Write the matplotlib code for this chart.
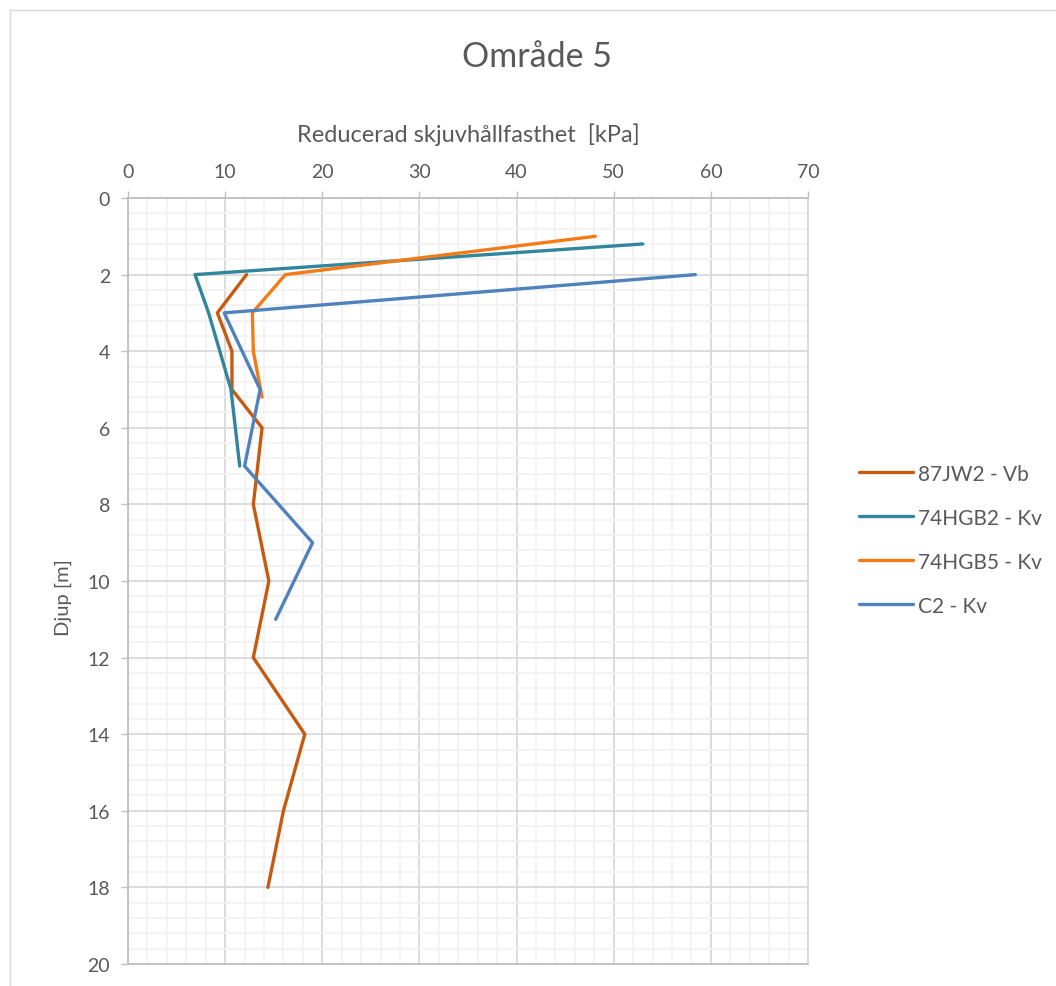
import matplotlib.pyplot as plt
from matplotlib.ticker import MultipleLocator
from matplotlib.lines import Line2D

plt.rcParams['font.family'] = ['Lato', 'DejaVu Sans']

# depth [m] and reduced shear strength [kPa] per sounding
jw2_depth = [2, 3, 4, 5, 6, 8, 10, 12, 14, 16, 18]
jw2_val = [12.2, 9.2, 10.7, 10.7, 13.8, 12.9, 14.5, 12.9, 18.2, 16.0, 14.4]

hgb2_depth = [1.2, 2, 3, 5, 7]
hgb2_val = [53.0, 6.9, 8.3, 10.6, 11.5]

hgb5_depth = [1, 2, 3, 4, 5.2]
hgb5_val = [48.1, 16.2, 12.8, 12.9, 13.8]

c2_depth = [2, 3, 5, 7, 9, 11]
c2_val = [58.4, 9.9, 13.6, 12.0, 19.0, 15.2]

labels = ["87JW2 - Vb", "74HGB2 - Kv", "74HGB5 - Kv", "C2 - Kv"]
colors = ["#C55A11", "#31859C", "#F47A16", "#4F81BD"]

fig = plt.figure(figsize=(10.56, 9.87), dpi=100)
ax = fig.add_axes([128 / 1056, 1 - 965 / 987, 680 / 1056, 766 / 987])

series = [(jw2_val, jw2_depth), (hgb2_val, hgb2_depth),
          (hgb5_val, hgb5_depth), (c2_val, c2_depth)]
for (x, y), lab, col in zip(series, labels, colors):
    ax.plot(x, y, color=col, lw=2.4, label=lab,
            solid_capstyle='round', solid_joinstyle='round', zorder=3)

ax.set_xlim(0, 70)
ax.set_ylim(20, 0)
ax.xaxis.set_major_locator(MultipleLocator(10))
ax.xaxis.set_minor_locator(MultipleLocator(2))
ax.yaxis.set_major_locator(MultipleLocator(2))
ax.yaxis.set_minor_locator(MultipleLocator(0.4))

ax.xaxis.tick_top()
ax.xaxis.set_label_position('top')
ax.grid(which='major', color='#D9D9D9', lw=1.3, zorder=0)
ax.grid(which='minor', color='#F2F2F2', lw=1.3, zorder=0)
ax.set_axisbelow(True)

ax.tick_params(which='major', length=5, width=1, color='#BFBFBF',
               labelcolor='#595959', labelsize=14, pad=8)
ax.tick_params(which='minor', length=0)
for side in ['left', 'top', 'bottom']:
    ax.spines[side].set_color('#BFBFBF')
    ax.spines[side].set_linewidth(1.3)
ax.spines['right'].set_color('#D9D9D9')
ax.spines['right'].set_linewidth(1.3)

ax.set_xlabel("Reducerad skjuvhållfasthet  [kPa]", fontsize=17,
              color='#595959', labelpad=16)
ax.set_ylabel("Djup [m]", fontsize=14.5, color='#595959')
ax.yaxis.set_label_coords(-0.083, 0.48)

fig.text(537 / 1056, 1 - 57 / 987, "Område 5", fontsize=24.5,
         color='#595959', ha='center', va='center')

leg = fig.legend(loc='upper left', bbox_to_anchor=(840 / 1056, 1 - 446 / 987),
                 frameon=False, fontsize=15, handlelength=2.6,
                 labelspacing=1.15, handletextpad=0.25)
for t in leg.get_texts():
    t.set_color('#595959')

# chart area border
fig.add_artist(Line2D([10 / 1056, 10 / 1056], [0, 1 - 11 / 987],
                      color='#D9D9D9', lw=1, transform=fig.transFigure))
fig.add_artist(Line2D([10 / 1056, 1], [1 - 11 / 987, 1 - 11 / 987],
                      color='#D9D9D9', lw=1, transform=fig.transFigure))

fig.savefig("out.png", dpi=100)
